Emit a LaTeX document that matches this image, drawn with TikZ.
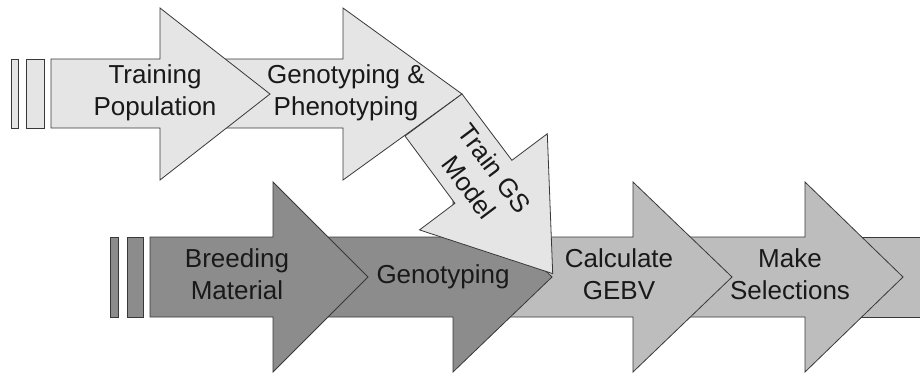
\documentclass[tikz,border=0pt]{standalone}
\usepackage{fontspec}
\setmainfont{Liberation Sans}
\definecolor{trainfill}{gray}{0.90}
\definecolor{breedfill}{gray}{0.55}
\definecolor{selectfill}{gray}{0.74}
\definecolor{edgecol}{gray}{0.22}
\definecolor{textcol}{gray}{0.10}
\begin{document}
\begin{tikzpicture}[x=1pt,y=-1pt,
		edge/.style={draw=edgecol,line width=0.8pt,line join=miter},
		flowtext/.style={align=center,inner sep=0pt,text=textcol,
			font=\fontsize{26}{32}\selectfont}]
			\useasboundingbox (0,0) rectangle (920,373);
			% training population row
			\draw[edge,fill=trainfill]
			(200,59)--(343,59)--(343,8)--(462,94)--(343,180)--(343,128)--(200,128)--cycle;
			\draw[edge,fill=trainfill]
			(51,59)--(160,59)--(160,8)--(270,94)--(160,180)--(160,128)--(51,128)--cycle;
			\draw[edge,fill=trainfill]
			(11,59) rectangle (18,128)
			(26,59) rectangle (44,128)
			;
			% breeding material row
			\draw[edge,fill=selectfill]
			(840,237)--(930,237)--(930,317)--(840,317)--cycle;
			\draw[edge,fill=selectfill]
			(660,237)--(805,237)--(805,182)--(903,277)--(805,372)--(805,317)--(660,317)--cycle;
			\draw[edge,fill=selectfill]
			(480,237)--(633,237)--(633,182)--(732,277)--(633,372)--(633,317)--(480,317)--cycle;
			\draw[edge,fill=breedfill]
			(300,237)--(453,237)--(453,182)--(552,277)--(453,372)--(453,317)--(300,317)--cycle;
			\draw[edge,fill=breedfill]
			(150,237)--(273,237)--(273,182)--(368,277)--(273,372)--(273,317)--(150,317)--cycle;
			\draw[edge,fill=breedfill]
			(110,237) rectangle (118,317)
			(127,237) rectangle (143,317)
			;
			% GS model link
			\draw[edge,fill=trainfill]
			(462,94)--(511.9,160.3)--(547.3,133.7)--(552.7,273.6)
			--(419.5,229.9)--(454.9,203.3)--(405,136)--cycle;
			% labels
			\node[flowtext] (train) at (155,93) {Training\\Population};
			\node[flowtext] (pheno) at (346,93) {Genotyping \&\\Phenotyping};
			\node[flowtext,rotate=-53] (gsmodel) at (482,178) {Train GS\\Model};
			\node[flowtext] (breed) at (237,274) {Breeding\\Material};
			\node[flowtext] (geno) at (443,277) {Genotyping};
			\node[flowtext] (gebv) at (619,274) {Calculate\\GEBV};
			\node[flowtext] (select) at (790,274) {Make\\Selections};
		\end{tikzpicture}
\end{document}
